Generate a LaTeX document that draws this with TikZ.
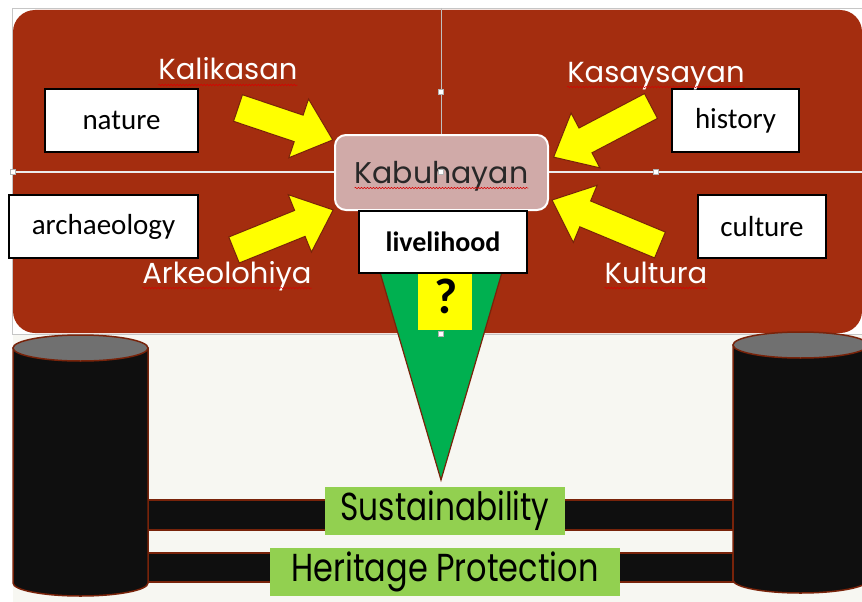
\documentclass[tikz,border=0pt]{standalone}
\usepackage{fontspec}
\usepackage{graphicx}
\usetikzlibrary{decorations.pathmorphing}
\newfontfamily\carl{Carlito}
\newfontfamily\gothic{Poppins}
\definecolor{brownbg}{RGB}{164,45,15}
\definecolor{edgebrown}{RGB}{120,35,10}
\definecolor{kabfill}{RGB}{208,170,168}
\definecolor{yel}{RGB}{255,255,0}
\definecolor{trigreen}{RGB}{0,176,80}
\definecolor{lgreen}{RGB}{146,208,80}
\definecolor{cyltop}{RGB}{112,112,112}
\definecolor{cylbody}{RGB}{15,15,15}
\definecolor{cream}{RGB}{247,247,242}
\definecolor{kabtext}{RGB}{40,40,40}
\tikzset{
  wbox/.style={draw=black, line width=1.6pt, fill=white, inner sep=0pt, minimum height=63pt,
    font=\carl\fontsize{29}{32}\selectfont},
  lbl/.style={text=white, anchor=base, inner sep=0pt, font=\gothic\fontsize{29}{33}\selectfont},
  squig/.style={draw=red!85!black, line width=0.5pt, decorate, decoration={snake, amplitude=0.7pt, segment length=3pt}},
  yarr/.style={fill=yel, draw=edgebrown, line width=1pt, line join=miter},
  gbox/.style={fill=lgreen, draw=none, inner sep=0pt, minimum height=48pt, font=\gothic\fontsize{39}{42}\selectfont},
  bar/.style={fill=cylbody, draw=edgebrown, line width=1.5pt},
  cyl/.style={fill=cylbody, draw=edgebrown, line width=1.5pt},
  handle/.style={fill=white, draw=gray!60, line width=0.5pt},
  frame/.style={draw=gray!45, line width=0.8pt}
}
\newcommand\yarrow[3]{% shift, angle, length
  \begin{scope}[shift={#1}, rotate=#2]
    \path[yarr] (0,-14) -- (#3-36,-14) -- (#3-36,-31) -- (#3,0) -- (#3-36,31) -- (#3-36,14) -- (0,14) -- cycle;
  \end{scope}}
\begin{document}
\begin{tikzpicture}[x=1pt, y=-1pt]
\useasboundingbox (0,0) rectangle (862,602);
\clip (0,0) rectangle (862,602);
\fill[white] (0,0) rectangle (862,602);
\fill[cream] (13,334) rectangle (862,602);
% brown panel
\fill[brownbg, rounded corners=22pt] (13,10) rectangle (862,333);
% frame lines
\draw[frame] (12,8) -- (862,8);
\draw[frame] (12,8) -- (12,334) -- (862,334);
\draw[draw=white!85!gray, line width=1.2pt] (13,172) -- (862,172);
\draw[draw=gray!50, line width=0.8pt] (441,8) -- (441,172);
% arrows
\yarrow{(238,108)}{-18.6}{100}
\yarrow{(234,250)}{22.0}{107}
\yarrow{(651,106)}{207.7}{110}
\yarrow{(660,245)}{157.4}{117}
% triangle
\path[fill=trigreen, draw=edgebrown, line width=1.2pt] (372,245) -- (510,245) -- (441,480) -- cycle;
\node[fill=yel, inner sep=0pt, minimum width=54pt, minimum height=64pt] (qbox) at (445,298) {};
\node[inner sep=0pt, font=\carl\bfseries\fontsize{50}{50}\selectfont] (q) at (446,296) {?};
% Kabuhayan
\node[fill=kabfill, draw=white, line width=2pt, rounded corners=11pt, minimum width=213pt, minimum height=75pt, inner sep=0pt] (kab) at (441.5,172.5) {};
\node[anchor=base, inner sep=0pt, text=kabtext, font=\gothic\fontsize{30}{34}\selectfont] (kabt) at (441.5,183) {Kabuhayan};
% white boxes
\node[wbox, minimum width=153pt] (nature) at (121.5,120.5) {nature};
\node[wbox, minimum width=127pt] (history) at (735.5,120.5) {history};
\node[wbox, minimum width=189pt] (arch) at (103.5,226.5) {archaeology};
\node[wbox, minimum width=128pt] (culture) at (762,226.5) {culture};
\node[wbox, minimum width=168pt, minimum height=62pt, font=\carl\bfseries\fontsize{28}{30}\selectfont] (live) at (443,242) {livelihood};
% labels
\node[lbl] (kal) at (228,80) {Kalikasan};
\node[lbl] (kas) at (656,82) {Kasaysayan};
\node[lbl] (ark) at (227,283) {Arkeolohiya};
\node[lbl] (kul) at (656,283) {Kultura};
\foreach \n in {kal,kas,ark,kul,kabt}{
  \draw[squig] ([yshift=-5pt]\n.base west) -- ([yshift=-5pt]\n.base east);
}
% handles
\foreach \p in {(441,92),(441,172),(656,172),(13,172),(441,334)}{
  \path[handle] \p ++(-2.5,-2.5) rectangle ++(5,5);
}
% bars
\path[bar] (148,500) rectangle (733,530);
\path[bar] (148,553) rectangle (733,582);
% left cylinder
\path[cyl] (13,348) -- (13,583) arc[start angle=180, end angle=0, x radius=67.5, y radius=13] -- (148,348) -- cycle;
\path[cyl, fill=cyltop] (80.5,348) ellipse[x radius=67.5, y radius=13];
% right cylinder
\path[cyl] (733,345) -- (733,580) arc[start angle=180, end angle=0, x radius=67.5, y radius=13] -- (868,345) -- cycle;
\path[cyl, fill=cyltop] (800.5,345) ellipse[x radius=67.5, y radius=13];
% green boxes
\node[gbox, minimum width=240pt] (sust) at (445,511) {\scalebox{0.8}[1]{Sustainability}};
\node[gbox, minimum width=350pt] (herit) at (445,572) {\scalebox{0.82}[1]{Heritage Protection}};
\end{tikzpicture}
\end{document}
